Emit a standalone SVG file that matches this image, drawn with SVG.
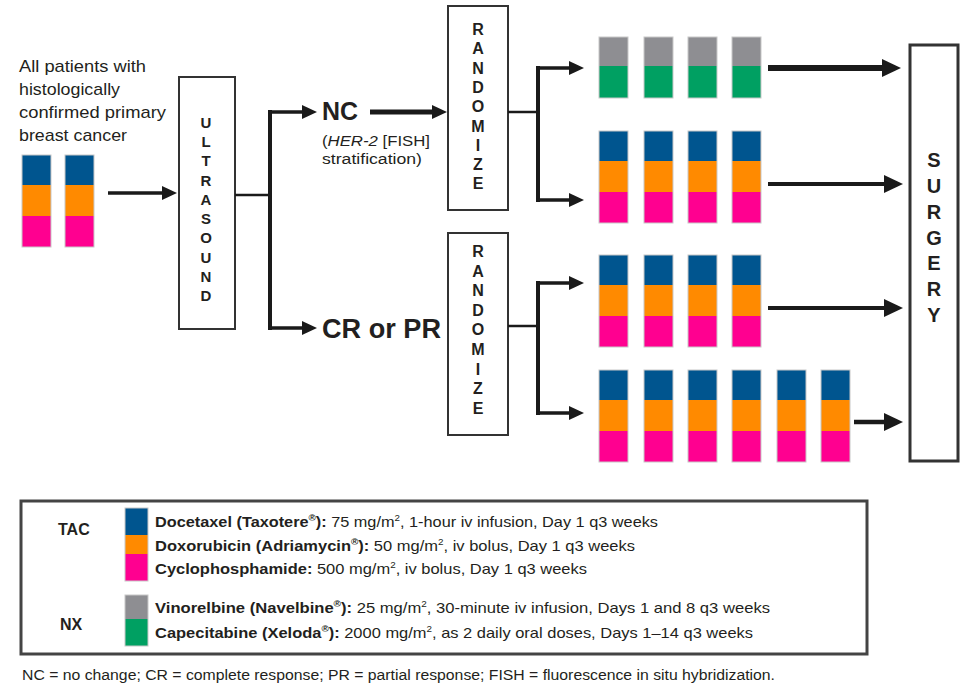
<svg xmlns="http://www.w3.org/2000/svg" width="961" height="688" viewBox="0 0 961 688">
<style>
.t{font-family:"Liberation Sans",Arial,sans-serif;fill:#231f20}
.b{font-weight:bold}
.box{fill:#fff;stroke:#333;stroke-width:2}
.vl{font-family:"Liberation Sans",Arial,sans-serif;font-weight:bold;fill:#231f20;text-anchor:middle}
.ln{fill:none;stroke:#1a1a1a}
.bl{fill:#00558f}.or{fill:#ff8a00}.pk{fill:#ff0090}.gy{fill:#8e8e92}.gn{fill:#00a062}
.fr{fill:none;stroke:#c8c8c8;stroke-width:1}
</style>
<defs>
<marker id="ah" markerUnits="userSpaceOnUse" markerWidth="16" markerHeight="14" refX="2" refY="7" orient="auto">
<path d="M0,0 L15,7 L0,14 z" fill="#1a1a1a"/>
</marker>
<marker id="ahL" markerUnits="userSpaceOnUse" markerWidth="20" markerHeight="18" refX="2" refY="9" orient="auto">
<path d="M0,0 L19,9 L0,18 z" fill="#1a1a1a"/>
</marker>
<g id="b3">
<rect class="bl" x="0" y="0" width="29" height="30"/>
<rect class="or" x="0" y="30" width="29" height="31"/>
<rect class="pk" x="0" y="61" width="29" height="31"/>
<rect class="fr" x="0" y="0" width="29" height="92"/>
</g>
<g id="b2">
<rect class="gy" x="0" y="0" width="29" height="29"/>
<rect class="gn" x="0" y="29" width="29" height="32"/>
<rect class="fr" x="0" y="0" width="29" height="61"/>
</g>
</defs>
<rect width="961" height="688" fill="#fff"/>

<g id="patients">
<text class="t" font-size="17" x="19" y="72" textLength="127" lengthAdjust="spacingAndGlyphs">All patients with</text>
<text class="t" font-size="17" x="19" y="95" textLength="101" lengthAdjust="spacingAndGlyphs">histologically</text>
<text class="t" font-size="17" x="19" y="118" textLength="147" lengthAdjust="spacingAndGlyphs">confirmed primary</text>
<text class="t" font-size="17" x="19" y="141" textLength="108" lengthAdjust="spacingAndGlyphs">breast cancer</text>
<use href="#b3" x="22" y="155"/>
<use href="#b3" x="65" y="155"/>
</g>

<g id="ultrasound">
<rect class="box" x="179" y="77" width="56" height="252"/>
<text class="vl" font-size="15" x="206" y="128">U</text>
<text class="vl" font-size="15" x="206" y="147">L</text>
<text class="vl" font-size="15" x="206" y="166">T</text>
<text class="vl" font-size="15" x="206" y="186">R</text>
<text class="vl" font-size="15" x="206" y="205">A</text>
<text class="vl" font-size="15" x="206" y="224">S</text>
<text class="vl" font-size="15" x="206" y="243">O</text>
<text class="vl" font-size="15" x="206" y="263">U</text>
<text class="vl" font-size="15" x="206" y="282">N</text>
<text class="vl" font-size="15" x="206" y="301">D</text>
</g>

<g id="nc">
<text class="t b" font-size="26" x="322" y="120" textLength="36" lengthAdjust="spacingAndGlyphs">NC</text>
<text class="t" font-size="14" x="322" y="146" textLength="108" lengthAdjust="spacingAndGlyphs">(<tspan font-style="italic">HER-2</tspan> [FISH]</text>
<text class="t" font-size="14" x="322" y="164" textLength="100" lengthAdjust="spacingAndGlyphs">stratification)</text>
</g>

<g id="crpr">
<text class="t b" font-size="27" x="322" y="338" textLength="119" lengthAdjust="spacingAndGlyphs">CR or PR</text>
</g>

<g id="randomize1">
<rect class="box" x="448" y="6" width="60" height="204"/>
<text class="vl" font-size="16" x="478" y="35">R</text>
<text class="vl" font-size="16" x="478" y="54">A</text>
<text class="vl" font-size="16" x="478" y="74">N</text>
<text class="vl" font-size="16" x="478" y="93">D</text>
<text class="vl" font-size="16" x="478" y="112">O</text>
<text class="vl" font-size="16" x="478" y="132">M</text>
<text class="vl" font-size="16" x="478" y="151">I</text>
<text class="vl" font-size="16" x="478" y="170">Z</text>
<text class="vl" font-size="16" x="478" y="189">E</text>
</g>

<g id="randomize2">
<rect class="box" x="448" y="233" width="60" height="202"/>
<text class="vl" font-size="16" x="478" y="257">R</text>
<text class="vl" font-size="16" x="478" y="277">A</text>
<text class="vl" font-size="16" x="478" y="296">N</text>
<text class="vl" font-size="16" x="478" y="316">D</text>
<text class="vl" font-size="16" x="478" y="335">O</text>
<text class="vl" font-size="16" x="478" y="355">M</text>
<text class="vl" font-size="16" x="478" y="375">I</text>
<text class="vl" font-size="16" x="478" y="394">Z</text>
<text class="vl" font-size="16" x="478" y="414">E</text>
</g>

<g id="arm-nx">
<use href="#b2" x="599" y="37"/>
<use href="#b2" x="644" y="37"/>
<use href="#b2" x="688" y="37"/>
<use href="#b2" x="732" y="37"/>
</g>
<g id="arm-tac-nc">
<use href="#b3" x="599" y="131"/>
<use href="#b3" x="644" y="131"/>
<use href="#b3" x="688" y="131"/>
<use href="#b3" x="732" y="131"/>
</g>
<g id="arm-tac4">
<use href="#b3" x="599" y="255"/>
<use href="#b3" x="644" y="255"/>
<use href="#b3" x="688" y="255"/>
<use href="#b3" x="732" y="255"/>
</g>
<g id="arm-tac6">
<use href="#b3" x="599" y="370"/>
<use href="#b3" x="644" y="370"/>
<use href="#b3" x="688" y="370"/>
<use href="#b3" x="732" y="370"/>
<use href="#b3" x="777" y="370"/>
<use href="#b3" x="821" y="370"/>
</g>

<g id="surgery">
<rect x="910" y="45" width="48" height="416" fill="#fff" stroke="#333" stroke-width="3"/>
<text class="vl" font-size="20" x="934" y="167">S</text>
<text class="vl" font-size="20" x="934" y="193">U</text>
<text class="vl" font-size="20" x="934" y="219">R</text>
<text class="vl" font-size="20" x="934" y="245">G</text>
<text class="vl" font-size="20" x="934" y="270">E</text>
<text class="vl" font-size="20" x="934" y="296">R</text>
<text class="vl" font-size="20" x="934" y="322">Y</text>
</g>

<g id="connectors">
<line class="ln" x1="108" y1="193" x2="164" y2="193" stroke-width="3.5" marker-end="url(#ah)"/>
<line class="ln" x1="235" y1="195" x2="270" y2="195" stroke-width="2.5"/>
<line class="ln" x1="270" y1="110" x2="270" y2="330" stroke-width="4"/>
<line class="ln" x1="268" y1="112" x2="304" y2="112" stroke-width="3.5" marker-end="url(#ah)"/>
<line class="ln" x1="268" y1="328" x2="304" y2="328" stroke-width="3.5" marker-end="url(#ah)"/>
<line class="ln" x1="370" y1="112" x2="434" y2="112" stroke-width="5" marker-end="url(#ah)"/>
<line class="ln" x1="508" y1="112" x2="538" y2="112" stroke-width="2.5"/>
<line class="ln" x1="538" y1="66" x2="538" y2="202" stroke-width="4"/>
<line class="ln" x1="536" y1="68" x2="571" y2="68" stroke-width="3.5" marker-end="url(#ah)"/>
<line class="ln" x1="536" y1="200" x2="571" y2="200" stroke-width="3.5" marker-end="url(#ah)"/>
<line class="ln" x1="508" y1="326" x2="538" y2="326" stroke-width="2.5"/>
<line class="ln" x1="538" y1="281" x2="538" y2="415" stroke-width="4"/>
<line class="ln" x1="536" y1="283" x2="571" y2="283" stroke-width="3.5" marker-end="url(#ah)"/>
<line class="ln" x1="536" y1="413" x2="571" y2="413" stroke-width="3.5" marker-end="url(#ah)"/>
<line class="ln" x1="768" y1="68" x2="884" y2="68" stroke-width="6" marker-end="url(#ahL)"/>
<line class="ln" x1="768" y1="184" x2="886" y2="184" stroke-width="4" marker-end="url(#ahL)"/>
<line class="ln" x1="768" y1="308" x2="886" y2="308" stroke-width="4" marker-end="url(#ahL)"/>
<line class="ln" x1="854" y1="422" x2="886" y2="422" stroke-width="4.5" marker-end="url(#ahL)"/>
</g>

<g id="legend">
<rect x="21" y="501" width="846" height="153" fill="#fff" stroke="#444" stroke-width="3"/>
<text class="t b" font-size="16" x="58" y="535">TAC</text>
<text class="t b" font-size="16" x="60" y="630">NX</text>
<rect class="bl" x="125" y="508" width="23" height="27"/>
<rect class="or" x="125" y="535" width="23" height="19"/>
<rect class="pk" x="125" y="554" width="23" height="27"/>
<rect class="fr" x="125" y="508" width="23" height="73"/>
<rect class="gy" x="125" y="595" width="23" height="24"/>
<rect class="gn" x="125" y="619" width="23" height="27"/>
<rect class="fr" x="125" y="595" width="23" height="51"/>
<text class="t" font-size="15" x="155" y="527" textLength="503" lengthAdjust="spacingAndGlyphs"><tspan class="b">Docetaxel (Taxotere<tspan font-size="9" dy="-6">®</tspan><tspan dy="6">):</tspan></tspan> 75 mg/m<tspan font-size="9" dy="-6">2</tspan><tspan dy="6">, 1-hour iv infusion, Day 1 q3 weeks</tspan></text>
<text class="t" font-size="15" x="155" y="551" textLength="480" lengthAdjust="spacingAndGlyphs"><tspan class="b">Doxorubicin (Adriamycin<tspan font-size="9" dy="-6">®</tspan><tspan dy="6">):</tspan></tspan> 50 mg/m<tspan font-size="9" dy="-6">2</tspan><tspan dy="6">, iv bolus, Day 1 q3 weeks</tspan></text>
<text class="t" font-size="15" x="155" y="574" textLength="432" lengthAdjust="spacingAndGlyphs"><tspan class="b">Cyclophosphamide:</tspan> 500 mg/m<tspan font-size="9" dy="-6">2</tspan><tspan dy="6">, iv bolus, Day 1  q3 weeks</tspan></text>
<text class="t" font-size="15" x="155" y="613" textLength="615" lengthAdjust="spacingAndGlyphs"><tspan class="b">Vinorelbine (Navelbine<tspan font-size="9" dy="-6">®</tspan><tspan dy="6">):</tspan></tspan> 25 mg/m<tspan font-size="9" dy="-6">2</tspan><tspan dy="6">, 30-minute iv infusion, Days 1 and 8 q3 weeks</tspan></text>
<text class="t" font-size="15" x="155" y="638" textLength="598" lengthAdjust="spacingAndGlyphs"><tspan class="b">Capecitabine (Xeloda<tspan font-size="9" dy="-6">®</tspan><tspan dy="6">):</tspan></tspan> 2000 mg/m<tspan font-size="9" dy="-6">2</tspan><tspan dy="6">, as 2 daily oral doses, Days 1–14 q3 weeks</tspan></text>
</g>

<g id="footnote">
<text class="t" font-size="14" x="22" y="680" textLength="753" lengthAdjust="spacingAndGlyphs">NC = no change; CR = complete response; PR = partial response; FISH = fluorescence in situ hybridization.</text>
</g>
</svg>
